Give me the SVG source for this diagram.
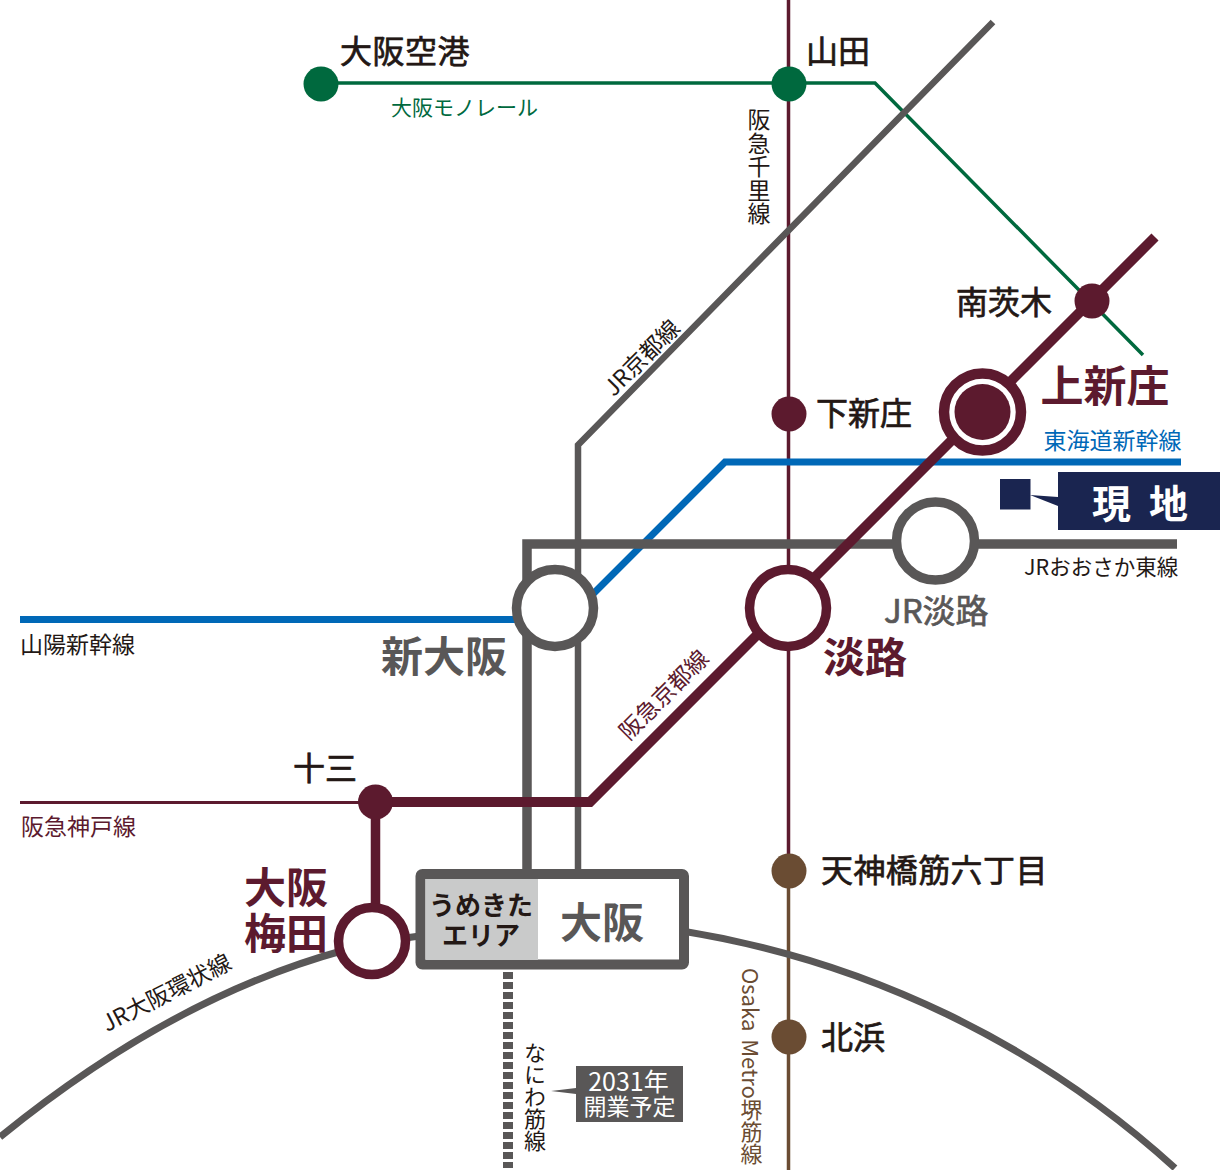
<svg xmlns="http://www.w3.org/2000/svg" width="1220" height="1170" viewBox="0 0 1220 1170">
<style>
text{font-family:"Noto Sans CJK JP","Noto Sans",sans-serif;}
.l{fill:none;stroke-linejoin:miter;}
.gray{stroke:#595757;}
.mar{stroke:#5c1a2e;}
.blue{stroke:#0068b7;}
.grn{stroke:#00693e;}
.brn{stroke:#6a4c33;}
.st{font-size:32px;fill:#231815;stroke:#231815;stroke-width:.7px;}
.big{font-weight:700;fill:#5c1a2e;}
.gy{font-weight:700;fill:#595757;}
.sm{font-size:23px;fill:#231815;}
.ring{fill:#fff;stroke-width:9.5;}
.v{writing-mode:vertical-rl;}
</style>
<g id="connectors">
<path id="monorail" class="l grn" stroke-width="3.5" d="M321 83H875L1143 355"/>
<path id="senri" class="l mar" stroke-width="3.5" d="M788.500 0V860"/>
<path id="sakaisuji" class="l brn" stroke-width="3.500" d="M788.500 860V1170"/>
<path id="kyoto-jr" class="l gray" stroke-width="6.500" d="M993 22L578 445V870"/>
<path id="kobe" class="l mar" stroke-width="3" d="M20 802.500H375"/>
<path id="tokaido" class="l blue" stroke-width="7" d="M1181 462H725L590 597"/>
<path id="sanyo" class="l blue" stroke-width="7" d="M20 619.500H530"/>
<path id="osaka-higashi" class="l gray" stroke-width="9.500" d="M527 870V544H1177"/>
<path id="hankyu-kyoto" class="l mar" stroke-width="10" d="M1155 237L590 802H375"/>
<path id="takarazuka" class="l mar" stroke-width="9.500" d="M375.500 802V910"/>
<path id="loop-l" class="l gray" stroke-width="7" d="M0 1137Q172 997 345 950"/>
<path id="loop-stub" class="l gray" stroke-width="7" d="M405 938L420 936"/>
<path id="loop-r" class="l gray" stroke-width="7" d="M685 931.500A958 958 0 0 1 1175 1168"/>
<path id="naniwa" class="l gray" stroke-width="10" stroke-dasharray="7 3" d="M508 972V1168"/>
</g>
<g id="n-airport"><circle cx="321" cy="84" r="17.500" fill="#00693e"/><text class="st" x="340" y="63" letter-spacing=".5">大阪空港</text></g>
<g id="n-yamada"><circle cx="789" cy="84" r="17.500" fill="#00693e"/><text class="st" x="806" y="63">山田</text></g>
<g id="n-minami"><circle cx="1092" cy="301" r="17.500" fill="#5c1a2e"/><text class="st" x="956" y="314">南茨木</text></g>
<g id="n-kami"><circle cx="982.500" cy="412" r="38.500" fill="#fff" stroke="#5c1a2e" stroke-width="10.500"/><circle cx="982.500" cy="412" r="28" fill="#5c1a2e"/><text class="big" x="1040.500" y="402" font-size="43">上新庄</text></g>
<g id="n-shimo"><circle cx="789" cy="414" r="17.500" fill="#5c1a2e"/><text class="st" x="816" y="425">下新庄</text></g>
<g id="n-jrawaji"><circle class="ring gray" cx="935.500" cy="541" r="39"/><text x="884" y="623" font-size="33" class="gy" style="font-weight:400;stroke:#595757;stroke-width:.7px">JR淡路</text></g>
<g id="n-awaji"><circle class="ring mar" cx="788" cy="608" r="38.500"/><text class="big" x="823" y="673" font-size="42">淡路</text></g>
<g id="n-shinosaka"><circle class="ring gray" cx="555" cy="608" r="38.500"/><text class="gy" x="381" y="672" font-size="42">新大阪</text></g>
<g id="n-juso"><circle cx="375.500" cy="802" r="17.500" fill="#5c1a2e"/><text class="st" x="293" y="780">十三</text></g>
<g id="n-umeda"><circle class="ring mar" cx="372" cy="941" r="33.500"/><text class="big" font-size="42"><tspan x="244" y="903">大阪</tspan><tspan x="244" y="949">梅田</tspan></text></g>
<g id="n-osaka"><rect x="420.500" y="874" width="263.500" height="90.500" rx="2" fill="#fff" stroke="#595757" stroke-width="10"/><rect x="425.500" y="879" width="112.500" height="81" fill="#c9caca"/><text text-anchor="middle" font-size="26" font-weight="700" fill="#231815"><tspan x="481" y="915">うめきた</tspan><tspan x="481" y="945">エリア</tspan></text><text class="gy" x="560" y="938" font-size="42">大阪</text></g>
<g id="n-tenjin"><circle cx="789" cy="871" r="17.500" fill="#6a4c33"/><text class="st" x="821" y="882" letter-spacing=".4">天神橋筋六丁目</text></g>
<g id="n-kita"><circle cx="789" cy="1037" r="17.500" fill="#6a4c33"/><text class="st" x="821" y="1049">北浜</text></g>
<g id="genchi"><rect x="1000" y="479" width="30.500" height="30.500" fill="#1a2550"/><path d="M1030 495L1058 497V506Z" fill="#1a2550"/><rect x="1058" y="472" width="162" height="58" fill="#1a2550"/><text x="1092" y="518" font-size="39" font-weight="700" fill="#fff" letter-spacing="18">現地</text></g>
<g id="open2031"><rect x="576" y="1066" width="107" height="56" fill="#595757"/><path d="M551 1091L576 1088V1094Z" fill="#595757"/><text fill="#fff" text-anchor="middle"><tspan x="628.500" y="1091" font-size="25">2031年</tspan><tspan x="629.500" y="1115" font-size="23">開業予定</tspan></text></g>
<g id="labels">
<text x="391" y="115" font-size="21" fill="#00693e">大阪モノレール</text>
<text class="sm v" x="759" y="108" letter-spacing=".5">阪急千里線</text>
<text class="sm" transform="translate(642 358) rotate(-45)" text-anchor="middle" y="8" font-size="22">JR京都線</text>
<text x="1043.500" y="449" font-size="23" fill="#0068b7">東海道新幹線</text>
<text x="1024" y="575" font-size="21.500" fill="#231815">JRおおさか東線</text>
<text class="sm" x="20" y="653">山陽新幹線</text>
<text transform="translate(664 695) rotate(-45)" text-anchor="middle" y="8" font-size="23" fill="#5c1a2e">阪急京都線</text>
<text x="21" y="835" font-size="23" fill="#5c1a2e">阪急神戸線</text>
<text class="sm" transform="translate(166.500 993) rotate(-27)" text-anchor="middle" y="8">JR大阪環状線</text>
<text class="v" x="535" y="1042" font-size="22" fill="#231815">なにわ筋線</text>
<text class="v" x="751.500" y="968" font-size="22" word-spacing="3" fill="#6a4c33">Osaka Metro堺筋線</text>
</g>
</svg>
